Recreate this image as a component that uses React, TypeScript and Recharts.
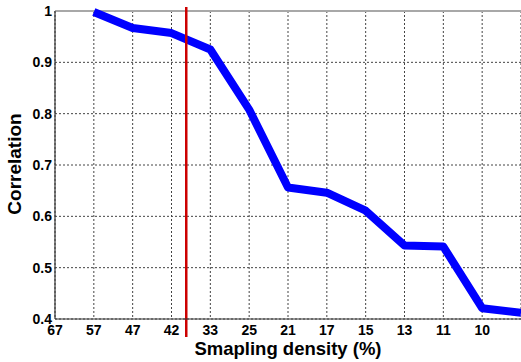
import {
  LineChart,
  Line,
  XAxis,
  YAxis,
  CartesianGrid,
  ReferenceLine,
} from "recharts";

// sampling density labels, one per x slot (the last slot has no label)
const densityLabels = ["67", "57", "47", "42", "33", "25", "21", "17", "15", "13", "11", "10"];

// correlation, starting at the "57" slot
const correlationValues = [0.998, 0.967, 0.957, 0.925, 0.808, 0.656, 0.646, 0.611, 0.543, 0.541, 0.421, 0.412];

const correlationTicks = [0.4, 0.5, 0.6, 0.7, 0.8, 0.9, 1];

// position of the red cut-off line on the slot scale (between 42 and 33)
const cutoffPosition = 3.38;

const FONT = "'Liberation Sans', Arial, sans-serif";

const data = correlationValues.map((v, i) => ({ slot: i + 1, correlation: v }));
const slotTicks = densityLabels.map((_, i) => i);

export default function App() {
  return (
    <div style={{ position: "absolute", left: 0, top: 0, width: 521, height: 362, background: "#fff" }}>
      <LineChart
        width={521}
        height={362}
        data={data}
        margin={{ top: 11, right: 0, bottom: 0, left: 0 }}
      >
        <CartesianGrid stroke="#444" strokeDasharray="2 2" strokeWidth={1} />
        <XAxis
          dataKey="slot"
          type="number"
          domain={[0, 12]}
          ticks={slotTicks}
          interval={0}
          tickFormatter={(v: number) => densityLabels[v] ?? ""}
          height={43}
          tickSize={0}
          tickMargin={6}
          axisLine={{ stroke: "#333", strokeWidth: 1.2 }}
          tick={{ fontSize: 14, fontWeight: "bold", fill: "#000", fontFamily: FONT }}
          label={{
            content: ({ viewBox }: any) => (
              <text
                x={viewBox.x + viewBox.width / 2}
                y={viewBox.y + 36}
                textAnchor="middle"
                fontSize={18.5}
                fontWeight="bold"
                fontFamily={FONT}
                fill="#000"
              >
                Smapling density (%)
              </text>
            ),
          }}
        />
        <YAxis
          type="number"
          domain={[0.4, 1]}
          ticks={correlationTicks}
          interval={0}
          tickFormatter={(v: number) => (v === 1 ? "1" : v.toFixed(1))}
          width={55}
          tickSize={0}
          tickMargin={3}
          axisLine={{ stroke: "#333", strokeWidth: 1.2 }}
          tick={{ fontSize: 14, fontWeight: "bold", fill: "#000", fontFamily: FONT }}
          label={{
            content: ({ viewBox }: any) => {
              const cx = 21;
              const cy = viewBox.y + viewBox.height / 2 - 1;
              return (
                <text
                  x={cx}
                  y={cy}
                  transform={`rotate(-90 ${cx} ${cy})`}
                  textAnchor="middle"
                  fontSize={19}
                  fontWeight="bold"
                  fontFamily={FONT}
                  fill="#000"
                >
                  Correlation
                </text>
              );
            },
          }}
        />
        <ReferenceLine y={1} stroke="#a8a8a8" strokeWidth={2} />
        <Line
          type="linear"
          dataKey="correlation"
          stroke="#0000ff"
          strokeWidth={8}
          strokeLinejoin="round"
          dot={false}
          isAnimationActive={false}
        />
        <ReferenceLine
          x={cutoffPosition}
          stroke="#cc0000"
          strokeWidth={2.5}
          shape={(p: any) => (
            <line
              x1={p.x1}
              x2={p.x2}
              y1={Math.min(p.y1, p.y2) - 4}
              y2={Math.max(p.y1, p.y2) + 18}
              stroke="#cc0000"
              strokeWidth={2.5}
            />
          )}
        />
      </LineChart>
    </div>
  );
}
